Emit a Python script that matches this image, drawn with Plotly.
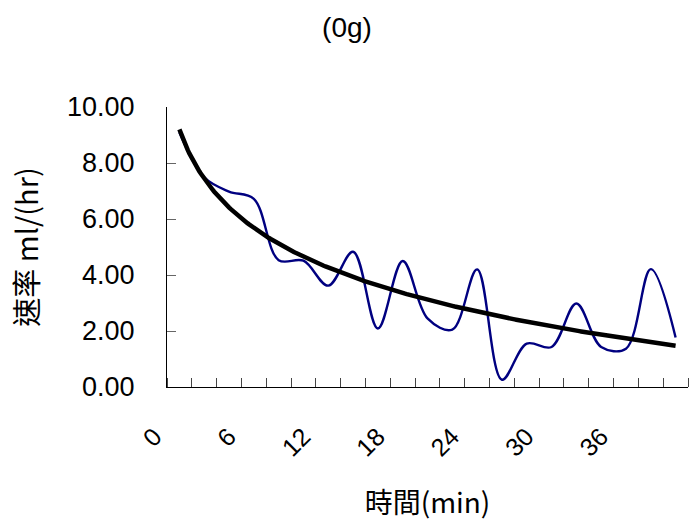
import numpy as np
import plotly.graph_objects as go

# ---- data ----
time_min = [0, 2, 4, 6, 8, 10, 12, 14, 16, 18, 20, 22, 24, 26, 28, 30, 32, 34, 36, 38, 40]
rate = [9.10, 7.49, 6.98, 6.72, 4.53, 4.51, 3.62, 4.83, 2.09, 4.50,
        2.45, 2.05, 4.20, 0.26, 1.55, 1.43, 2.98, 1.43, 1.37, 4.21, 1.77]
tick_labels = ["0", "6", "12", "18", "24", "30", "36"]
y_ticks = [0, 2, 4, 6, 8, 10]

title_text = "(0g)"
x_title = "時間(min)"
y_title = "速率 ml/(hr)"

# category positions (1-based like a spreadsheet category axis)
cat_pos = np.arange(1, len(time_min) + 1)
label_pos = [cat_pos[time_min.index(int(t))] for t in tick_labels]

# logarithmic trendline fitted to the series (y = a + b ln x)
b, a = np.polyfit(np.log(cat_pos), np.array(rate), 1)
xt = np.linspace(cat_pos[0], cat_pos[-1], 300)
yt = a + b * np.log(xt)

fig = go.Figure()
fig.add_trace(go.Scatter(
    x=cat_pos, y=rate, mode="lines",
    line=dict(color="#000080", width=2.4, shape="spline", smoothing=1.0),
    hoverinfo="skip", showlegend=False))
fig.add_trace(go.Scatter(
    x=xt, y=yt, mode="lines",
    line=dict(color="black", width=4.5),
    hoverinfo="skip", showlegend=False))

fig.update_layout(
    width=698, height=523,
    margin=dict(l=167, r=10, t=107, b=136, autoexpand=False),
    paper_bgcolor="white", plot_bgcolor="white",
    title=dict(text=title_text, xanchor="center", xref="paper",
               y=1 - 27 / 523, yref="container", yanchor="middle",
               font=dict(family="Liberation Sans, Arial", size=28, color="black")),
    font=dict(family="Liberation Sans, Arial", color="black"),
)
fig.update_layout(title_x=(347 - 167) / (688 - 167))

fig.update_xaxes(
    range=[0.5, len(time_min) + 0.5], automargin=False,
    showline=True, linecolor="black", linewidth=1,
    showgrid=False, zeroline=False,
    tickmode="array", tickvals=label_pos, ticktext=tick_labels,
    ticks="", tickangle=-45,
    tickfont=dict(family="Liberation Sans, Arial", size=25, color="black"),
    ticklabelstandoff=24, ticklabelshift=-25,
    minor=dict(tickmode="linear", tick0=0.5, dtick=1, ticks="inside",
               ticklen=9, tickwidth=1, tickcolor="#444", showgrid=False),
    title=dict(text=x_title, standoff=32,
               font=dict(family="Noto Sans CJK TC, Noto Sans CJK SC", size=28, color="black")),
)
fig.update_yaxes(
    range=[0, 10], automargin=False,
    showline=True, linecolor="black", linewidth=1,
    showgrid=False, zeroline=False,
    tickmode="array", tickvals=y_ticks, tickformat=".2f",
    ticks="inside", ticklen=9, tickwidth=1, tickcolor="#666",
    tickfont=dict(family="Liberation Sans, Arial", size=27, color="black"),
    ticklabelstandoff=26,
    title=dict(text=y_title, standoff=19,
               font=dict(family="Noto Sans CJK TC, Noto Sans CJK SC", size=29, color="black")),
)

fig.write_html("out.html", config={"displayModeBar": False},
               post_script="document.body.style.margin='0';")
